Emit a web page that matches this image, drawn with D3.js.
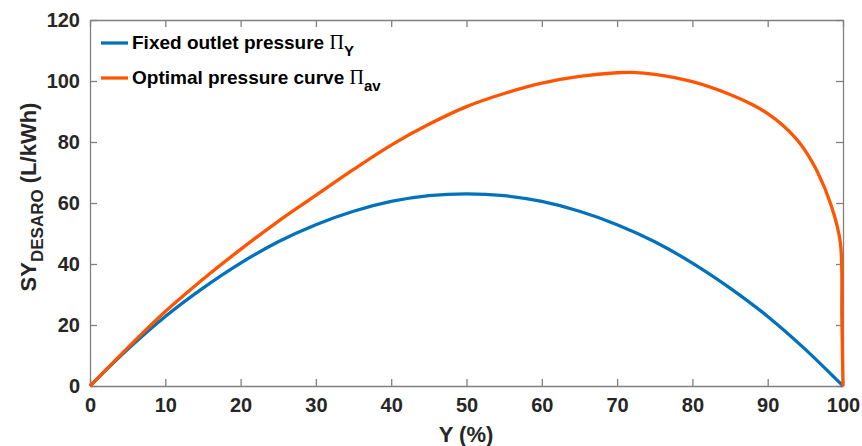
<!DOCTYPE html>
<html>
<head>
<meta charset="utf-8">
<script src="https://cdn.jsdelivr.net/npm/d3@7"></script>
<style>
  body { margin: 0; background: #fff; }
  text { font-family: Arial, "Liberation Sans", Helvetica, sans-serif; }
</style>
</head>
<body>
<div id="chart"></div>
<script>
// fixed outlet pressure curve
const fixedX = [0, 5, 10, 15, 20, 25, 30, 35, 40, 45, 50, 55, 60, 65, 70, 75, 80, 85, 90, 95, 100];
const fixedY = [0, 12, 22.8, 32.1, 40.3, 47.3, 52.9, 57.3, 60.5, 62.4, 63, 62.4, 60.5, 57.3, 52.9, 47.3, 40.3, 32.1, 22.8, 12, 0];

// optimal pressure curve
const optX = [0, 5, 10, 15, 20, 25, 30, 35, 40, 45, 50, 55, 60, 65, 70, 72, 75, 80, 85, 88, 90, 92, 94.3, 96.5, 98.5, 99.65, 99.85, 100];
const optY = [0, 12.5, 24.4, 35, 44.8, 54, 62.5, 71, 79, 85.8, 91.6, 95.9, 99.3, 101.5, 102.7, 102.8, 102.2, 99.8, 95.6, 92.2, 89.3, 85.5, 79.5, 70.7, 58.7, 47, 22, 0];

const xTicks = [0, 10, 20, 30, 40, 50, 60, 70, 80, 90, 100];
const yTicks = [0, 20, 40, 60, 80, 100, 120];

const W = 862, H = 446;
const margin = {top: 20, right: 19, bottom: 60, left: 90};
const width = W - margin.left - margin.right,
      height = H - margin.top - margin.bottom;

const blue = "#0072BD", orange = "#FF5500", axisCol = "#808080", textCol = "#262626";

const svg = d3.select("#chart").append("svg")
    .attr("width", W)
    .attr("height", H);

const g = svg.append("g")
    .attr("transform", "translate(" + margin.left + "," + margin.top + ")");

const x = d3.scaleLinear().domain([0, 100]).range([0, width]);
const y = d3.scaleLinear().domain([0, 120]).range([height, 0]);

// axes (ticks pointing inwards, mirrored on top/right)
function styleAxis(sel) {
    sel.select(".domain").attr("stroke", axisCol).attr("stroke-width", 1.3);
    sel.selectAll(".tick line").attr("stroke", axisCol).attr("stroke-width", 1.3);
    sel.selectAll(".tick text")
        .attr("fill", textCol)
        .style("font-size", "20px")
        .style("font-weight", "bold");
}

g.append("g")
    .attr("transform", "translate(0," + height + ")")
    .call(d3.axisBottom(x).tickValues(xTicks).tickSizeInner(-7).tickSizeOuter(0).tickPadding(12))
    .call(styleAxis);

g.append("g")
    .call(d3.axisTop(x).tickValues(xTicks).tickSizeInner(-7).tickSizeOuter(0).tickFormat(""))
    .call(styleAxis);

g.append("g")
    .call(d3.axisLeft(y).tickValues(yTicks).tickSizeInner(-7).tickSizeOuter(0).tickPadding(10))
    .call(styleAxis);

g.append("g")
    .attr("transform", "translate(" + width + ",0)")
    .call(d3.axisRight(y).tickValues(yTicks).tickSizeInner(-7).tickSizeOuter(0).tickFormat(""))
    .call(styleAxis);

// lines
const line = d3.line()
    .x(d => x(d[0]))
    .y(d => y(d[1]))
    .curve(d3.curveCatmullRom.alpha(0.5));

const series = [
    {name: "fixed", color: blue, pts: fixedX.map((v, i) => [v, fixedY[i]])},
    {name: "opt", color: orange, pts: optX.map((v, i) => [v, optY[i]])}
];

series.forEach(s => {
    g.append("path")
        .datum(s.pts)
        .attr("fill", "none")
        .attr("stroke", s.color)
        .attr("stroke-width", 3.3)
        .attr("d", line);
});

// legend
const legend = [
    {label: "Fixed outlet pressure ", sub: "Y", color: blue, y: 43},
    {label: "Optimal pressure curve ", sub: "av", color: orange, y: 78}
];

legend.forEach(l => {
    svg.append("line")
        .attr("x1", 101).attr("x2", 128)
        .attr("y1", l.y).attr("y2", l.y)
        .attr("stroke", l.color)
        .attr("stroke-width", 3.3);
    let t = svg.append("text")
        .attr("x", 132)
        .attr("y", l.y + 6)
        .attr("fill", "#000")
        .style("font-size", "19px")
        .style("font-weight", "bold");
    t.append("tspan").text(l.label);
    t.append("tspan")
        .style("font-family", "'Liberation Serif', 'Times New Roman', serif")
        .style("font-weight", "normal")
        .style("font-size", "20px")
        .text("\u03A0");
    t.append("tspan")
        .attr("dy", 7)
        .style("font-size", "15px")
        .text(l.sub);
});

// axis titles
svg.append("text")
    .attr("x", 466)
    .attr("y", 442)
    .attr("text-anchor", "middle")
    .attr("fill", textCol)
    .style("font-size", "22px")
    .style("font-weight", "bold")
    .text("Y (%)");

const yl = svg.append("text")
    .attr("transform", "translate(36,197) rotate(-90)")
    .attr("text-anchor", "middle")
    .attr("fill", textCol)
    .style("font-size", "22px")
    .style("font-weight", "bold");
yl.append("tspan").text("SY");
yl.append("tspan").attr("dy", 7).style("font-size", "17px").text("DESARO");
yl.append("tspan").attr("dy", -7).text(" (L/kWh)");
</script>
</body>
</html>
